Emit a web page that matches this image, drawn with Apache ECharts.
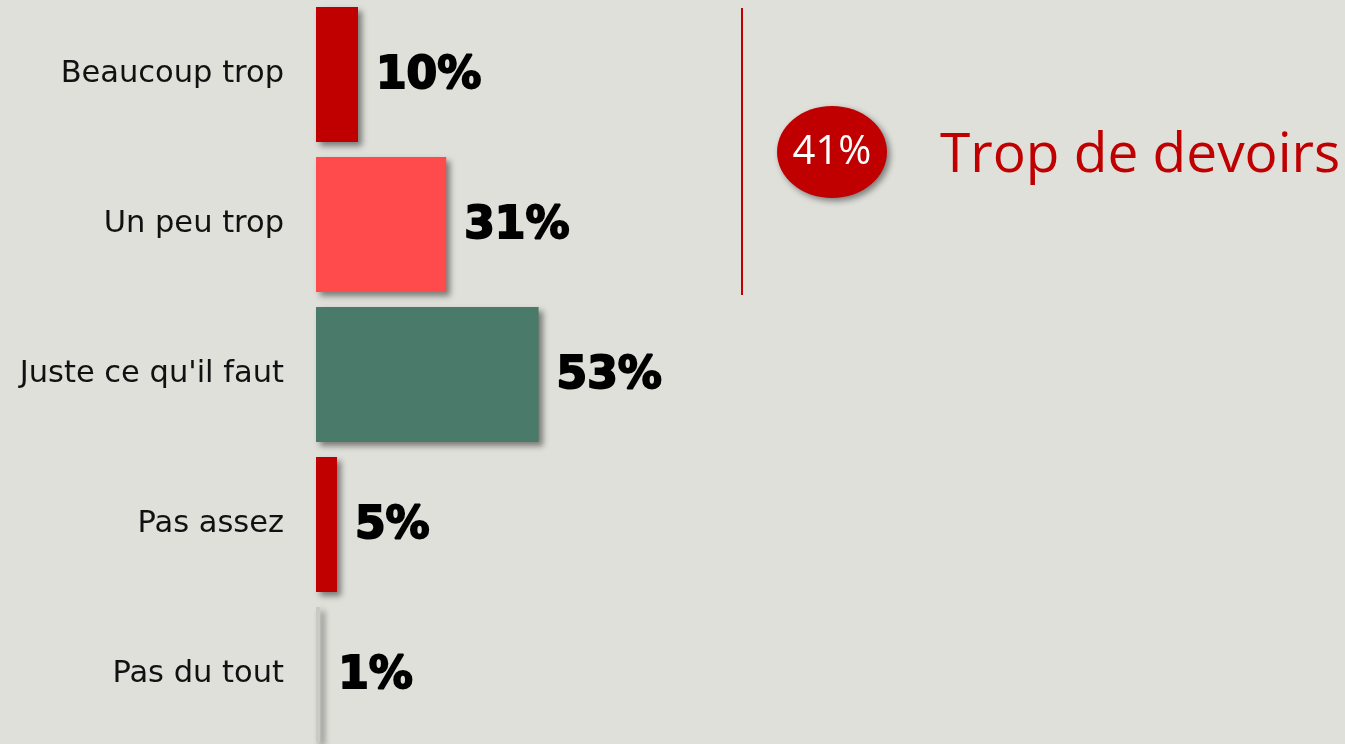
<!DOCTYPE html>
<html>
<head>
<meta charset="utf-8">
<script src="https://cdn.jsdelivr.net/npm/echarts@6/dist/echarts.min.js"></script>
<style>
  html, body { margin: 0; padding: 0; background: #dfe0da; }
  #chart { width: 1345px; height: 744px; }
</style>
</head>
<body>
<div id="chart"></div>
<script>
const categories = ['Beaucoup trop', 'Un peu trop', "Juste ce qu'il faut", 'Pas assez', 'Pas du tout']
const values = [10, 31, 53, 5, 1]
const barColors = ['#c00000', '#ff4b4b', '#4a7a69', '#c00000', '#c9c9c6']
const summaryValue = '41%'
const summaryText = 'Trop de devoirs'

const chart = echarts.init(document.getElementById('chart'))

const option = {
  backgroundColor: '#dfe0da',
  animation: false,
  grid: { left: 316, top: -0.5, width: 420, height: 750, outerBoundsMode: 'none' },
  xAxis: {
    type: 'value',
    min: 0,
    max: 100,
    show: false
  },
  yAxis: {
    type: 'category',
    data: categories,
    inverse: true,
    axisLine: { show: false },
    axisTick: { show: false },
    axisLabel: {
      margin: 32,
      color: '#111',
      fontSize: 30.5,
      fontFamily: 'DejaVu Sans',
      padding: [4, 0, 0, 0]
    }
  },
  series: [{
    type: 'bar',
    barWidth: 135,
    data: values.map((v, i) => ({
      value: v,
      itemStyle: { color: barColors[i] }
    })),
    itemStyle: {
      shadowColor: 'rgba(0,0,0,0.45)',
      shadowBlur: 6,
      shadowOffsetX: 4,
      shadowOffsetY: 4
    },
    label: {
      show: true,
      position: 'right',
      distance: 18,
      offset: [0, 2],
      formatter: '{c}%',
      color: '#000',
      fontSize: 44,
      fontWeight: 'bold',
      fontFamily: 'DejaVu Sans',
      textBorderColor: '#000',
      textBorderWidth: 2
    }
  }],
  graphic: [
    {
      type: 'line',
      shape: { x1: 742, y1: 8, x2: 742, y2: 295 },
      style: { stroke: '#c00000', lineWidth: 2 }
    },
    {
      type: 'ellipse',
      shape: { cx: 832, cy: 152, rx: 55, ry: 46 },
      style: {
        fill: '#c00000',
        shadowColor: 'rgba(0,0,0,0.45)',
        shadowBlur: 6,
        shadowOffsetX: 3,
        shadowOffsetY: 3
      }
    },
    {
      type: 'text',
      x: 832,
      y: 153,
      style: {
        text: summaryValue,
        fill: '#fff',
        fontSize: 40,
        fontFamily: 'Open Sans',
        align: 'center',
        verticalAlign: 'middle'
      }
    },
    {
      type: 'text',
      x: 940,
      y: 156,
      style: {
        text: summaryText,
        fill: '#c00000',
        fontSize: 55,
        fontFamily: 'Open Sans',
        align: 'left',
        verticalAlign: 'middle'
      }
    }
  ]
}

chart.setOption(option)
</script>
</body>
</html>
